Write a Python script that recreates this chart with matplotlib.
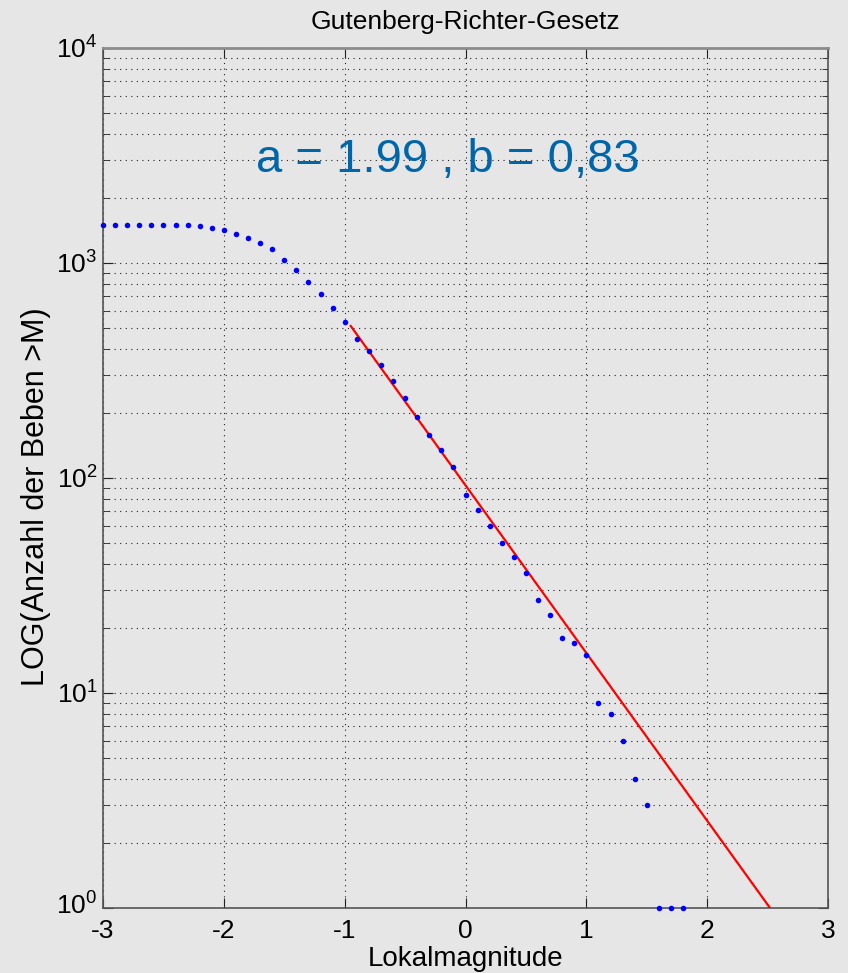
import numpy as np
import matplotlib.pyplot as plt
from matplotlib.transforms import ScaledTranslation

plt.rcParams["font.family"] = ["Liberation Sans", "DejaVu Sans"]
plt.rcParams["mathtext.default"] = "regular"

# Magnituden (Schritt 0.1) und kumulative Anzahl der Beben >= M
magnitude = [
    -3.0, -2.9, -2.8, -2.7, -2.6, -2.5, -2.4, -2.3, -2.2, -2.1,
    -2.0, -1.9, -1.8, -1.7, -1.6, -1.5, -1.4, -1.3, -1.2, -1.1,
    -1.0, -0.9, -0.8, -0.7, -0.6, -0.5, -0.4, -0.3, -0.2, -0.1,
    0.0, 0.1, 0.2, 0.3, 0.4, 0.5, 0.6, 0.7, 0.8, 0.9,
    1.0, 1.1, 1.2, 1.3, 1.4, 1.5, 1.6, 1.7, 1.8,
]
anzahl = [
    1503, 1503, 1503, 1503, 1503, 1503, 1503, 1503, 1480, 1458,
    1419, 1364, 1312, 1240, 1158, 1033, 925, 819, 720, 618,
    530, 442, 391, 336, 282, 236, 193, 158, 135, 112,
    83, 71, 60, 50, 43, 36, 27, 23, 18, 17,
    15, 9, 8, 6, 4, 3, 1, 1, 1,
]

# Ausgleichsgerade log10(N) = a_fit - b_fit * M
a_fit = 1.966
b_fit = 0.78
fit_bereich = [-0.95, 3.0]

bg = "#e6e6e6"
fig = plt.figure(figsize=(8.48, 9.73), dpi=100, facecolor=bg)
ax = fig.add_axes([0.1215, 0.0668, 0.8549, 0.8839], facecolor=bg)

m_fit = np.array(fit_bereich)
ax.plot(m_fit, 10 ** (a_fit - b_fit * m_fit), color="red", lw=1.6, zorder=3)
ax.plot(magnitude, anzahl, "o", color="blue", ms=4, mew=0, zorder=4, clip_on=False)

ax.set_yscale("log")
ax.set_xlim(-3, 3)
ax.set_ylim(1, 1e4)
ax.set_xticks(range(-3, 4))
ax.set_xticklabels([str(v) for v in range(-3, 4)])
ax.set_yticks([1, 10, 100, 1000, 10000])
ax.set_yticklabels([f"$10^{{{k}}}$" for k in range(5)])

ax.grid(True, which="major", axis="x", ls=(0, (1, 4)), color="#222222", lw=0.8)
ax.grid(True, which="both", axis="y", ls=(0, (1, 4)), color="#222222", lw=0.8)

ax.tick_params(which="both", direction="in", top=True, right=True, labelsize=19,
               color="#222222")
ax.tick_params(which="major", length=7)
ax.tick_params(which="minor", length=4)
ax.tick_params(axis="x", pad=8)
ax.tick_params(axis="y", pad=4)
# 10^0 ein paar Pixel anheben, damit es nicht auf der -3 sitzt
lbl0 = ax.get_yticklabels()[0]
lbl0.set_transform(lbl0.get_transform() + ScaledTranslation(0, 5 / 100, fig.dpi_scale_trans))
for s in ax.spines.values():
    s.set_color("#555555")
    s.set_linewidth(1.2)
ax.spines["top"].set_color("#8c8c8c")
ax.spines["top"].set_linewidth(2)

ax.set_title("Gutenberg-Richter-Gesetz", fontsize=19, pad=14)
ax.set_xlabel("Lokalmagnitude", fontsize=20, labelpad=2)
ax.set_ylabel("LOG(Anzahl der Beben >M)", fontsize=22)
ax.yaxis.set_label_coords(-0.072, 0.478)

ax.text(-0.145, 10 ** 3.423, "a = 1.99 , b = 0,83", color="#0066aa",
        fontsize=34, ha="center", va="baseline")

fig.savefig("out.png", dpi=100, facecolor=bg)
